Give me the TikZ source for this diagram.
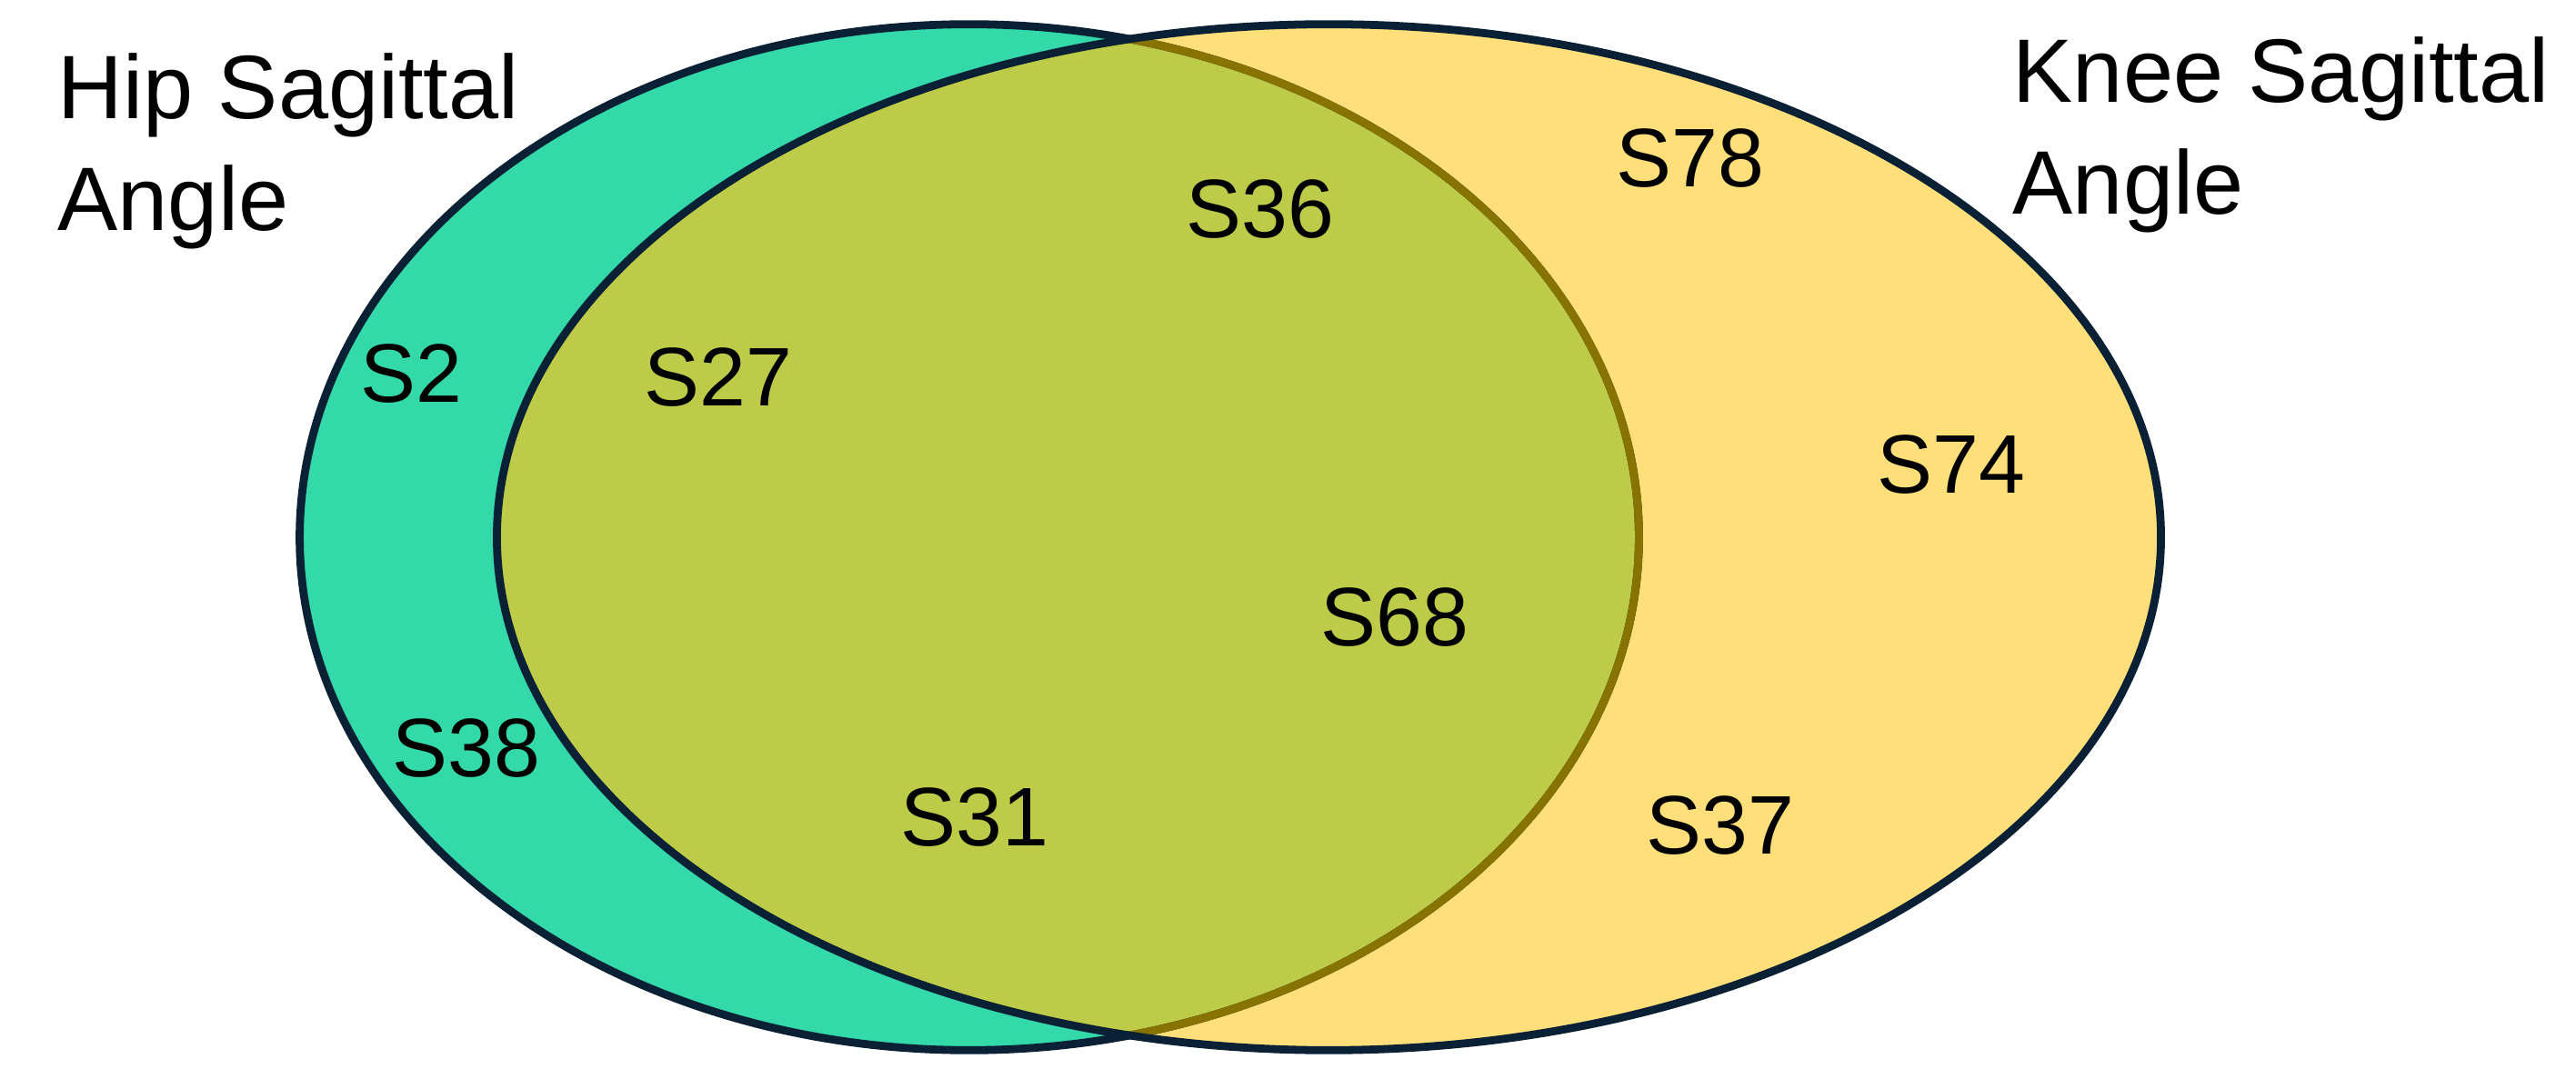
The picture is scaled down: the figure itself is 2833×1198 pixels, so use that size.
\documentclass[tikz,border=0pt]{standalone}
\usepackage{fontspec}
\setmainfont{Liberation Sans}
\definecolor{hipgreen}{RGB}{51,217,169}
\definecolor{kneeyellow}{RGB}{255,223,122}
\definecolor{overlapolive}{RGB}{189,203,72}
\definecolor{outlinenavy}{RGB}{10,32,52}
\definecolor{hiddenbrown}{RGB}{135,116,0}
\begin{document}
\begin{tikzpicture}[x=0.01cm,y=-0.01cm,
  outline/.style={line width=2.5pt},
  lbl/.style={font=\fontsize{26}{31}\selectfont, inner sep=0pt, anchor=base},
  ttl/.style={inner sep=0pt, anchor=north west, align=left, font=\fontsize{28.2}{35}\selectfont}]
\useasboundingbox (0,0) rectangle (2833,1198);
\coordinate (hipc) at (1066,591);
\coordinate (kneec) at (1461.5,591);
% fills
\fill[hipgreen] (hipc) ellipse [x radius=7.36cm, y radius=5.64cm];
\fill[kneeyellow] (kneec) ellipse [x radius=9.145cm, y radius=5.64cm];
\begin{scope}
  \clip (hipc) ellipse [x radius=7.36cm, y radius=5.64cm];
  \fill[overlapolive] (kneec) ellipse [x radius=9.145cm, y radius=5.64cm];
\end{scope}
% outlines
\draw[outline, outlinenavy] (hipc) ellipse [x radius=7.36cm, y radius=5.64cm];
\begin{scope}
  \clip (kneec) ellipse [x radius=9.145cm, y radius=5.64cm];
  \draw[outline, hiddenbrown] (hipc) ellipse [x radius=7.36cm, y radius=5.64cm];
\end{scope}
\draw[outline, outlinenavy] (kneec) ellipse [x radius=9.145cm, y radius=5.64cm];
% titles
\node[ttl] (hiptitle) at (63,58) {Hip Sagittal\\Angle};
\node[ttl] (kneetitle) at (2213,40) {Knee Sagittal\\Angle};
% labels
\node[lbl] (s2) at (452,443) {S2};
\node[lbl] (s27) at (790,447) {S27};
\node[lbl] (s38) at (513,855) {S38};
\node[lbl] (s36) at (1386,262) {S36};
\node[lbl] (s78) at (1859,206) {S78};
\node[lbl] (s68) at (1534,711) {S68};
\node[lbl] (s74) at (2146,543) {S74};
\node[lbl] (s31) at (1072,931) {S31};
\node[lbl] (s37) at (1892,940) {S37};
\end{tikzpicture}
\end{document}
